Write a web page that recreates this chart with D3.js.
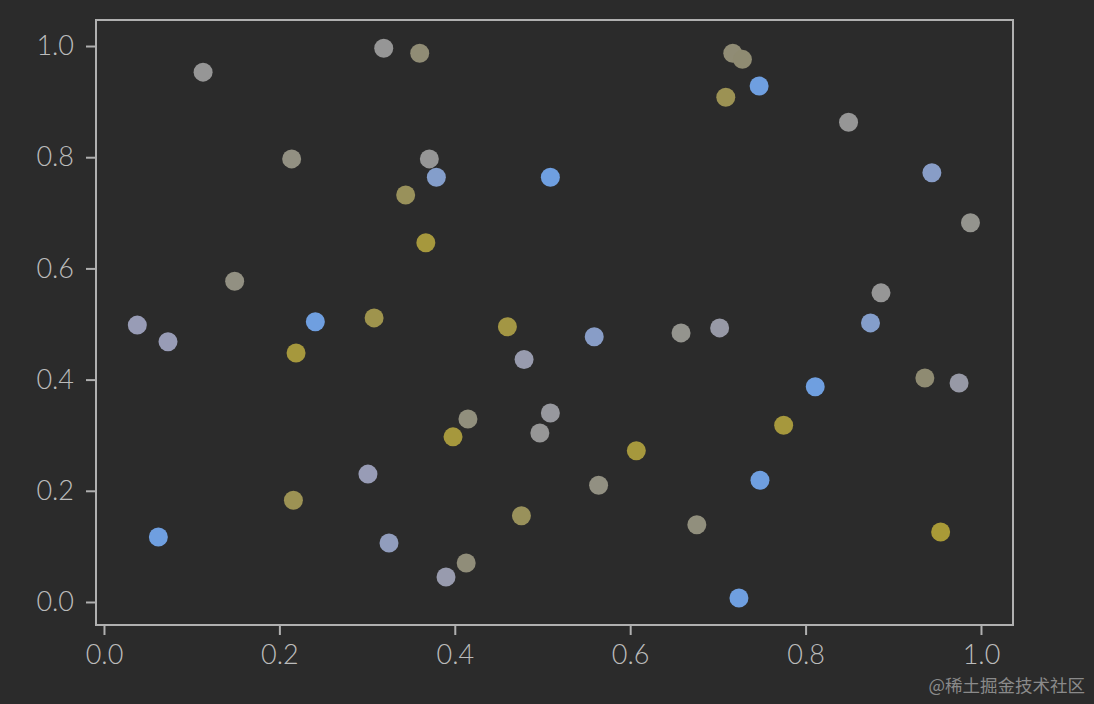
<!DOCTYPE html>
<html>
<head>
<meta charset="utf-8">
<script src="https://cdn.jsdelivr.net/npm/d3@7"></script>
<style>
html,body{margin:0;padding:0;background:#2b2b2b;}
svg{display:block;}
</style>
</head>
<body>
<svg id="chart" width="1094" height="704"></svg>
<script>
const xValues = [0.038,0.073,0.062,0.113,0.149,0.214,0.241,0.219,0.216,0.301,0.325,0.319,0.360,0.344,0.308,0.371,0.379,0.367,0.509,0.398,0.415,0.390,0.413,0.460,0.479,0.497,0.509,0.476,0.559,0.564,0.607,0.658,0.702,0.676,0.709,0.717,0.728,0.747,0.724,0.748,0.775,0.811,0.849,0.874,0.886,0.944,0.988,0.936,0.975,0.954];
const yValues = [0.498,0.468,0.117,0.953,0.577,0.797,0.504,0.448,0.183,0.230,0.106,0.996,0.987,0.732,0.511,0.797,0.764,0.646,0.764,0.297,0.329,0.045,0.070,0.495,0.436,0.304,0.340,0.155,0.477,0.210,0.272,0.484,0.493,0.139,0.908,0.987,0.976,0.928,0.007,0.219,0.318,0.387,0.863,0.502,0.556,0.772,0.682,0.403,0.394,0.126];
const colorValues = [0.3,0.3,0.0,0.5,0.62,0.62,0.0,0.95,0.85,0.3,0.25,0.5,0.7,0.82,0.88,0.5,0.15,0.95,0.0,0.95,0.65,0.35,0.68,0.92,0.35,0.5,0.45,0.82,0.18,0.62,0.95,0.55,0.4,0.65,0.85,0.7,0.72,0.0,0.0,0.0,0.95,0.0,0.5,0.15,0.5,0.18,0.55,0.72,0.4,0.98];
const xTicks = [0.0,0.2,0.4,0.6,0.8,1.0];
const yTicks = [0.0,0.2,0.4,0.6,0.8,1.0];

(function () {
const svg = d3.select("#chart");
const L = 96, R = 1013, T = 20, B = 625;
const x = d3.scaleLinear().domain([-0.0091, 1.0365]).range([L, R]);
const y = d3.scaleLinear().domain([-0.0414, 1.0468]).range([B, T]);
const color = d3.scaleLinear()
  .domain([0, 0.3, 0.5, 0.72, 1])
  .range(["#6f9fe0", "#989cb6", "#969696", "#8f8b72", "#ab9b32"]);

const fontFam = "Lato, 'DejaVu Sans', sans-serif";
const axisCol = "#b0b0b0";
const textCol = "#bcbcbc";

svg.append("g").selectAll("circle")
  .data(xValues.map((d, i) => ({x: d, y: yValues[i], c: colorValues[i]})))
  .join("circle")
  .attr("cx", d => x(d.x))
  .attr("cy", d => y(d.y))
  .attr("r", 9.5)
  .attr("fill", d => color(d.c));

svg.append("rect")
  .attr("x", L).attr("y", T)
  .attr("width", R - L).attr("height", B - T)
  .attr("fill", "none").attr("stroke", axisCol).attr("stroke-width", 2);

const xAxis = d3.axisBottom(x).tickValues(xTicks).tickFormat(d3.format(".1f")).tickSize(10).tickPadding(10);
const yAxis = d3.axisLeft(y).tickValues(yTicks).tickFormat(d3.format(".1f")).tickSize(10).tickPadding(12);

const gx = svg.append("g").attr("transform", `translate(0,${B})`).call(xAxis);
const gy = svg.append("g").attr("transform", `translate(${L},0)`).call(yAxis);
[gx, gy].forEach(g => {
  g.select(".domain").remove();
  g.selectAll(".tick line").attr("stroke", axisCol).attr("stroke-width", 2);
  g.selectAll(".tick text").attr("fill", textCol).attr("font-size", 27).attr("font-weight", 300).attr("font-family", fontFam);
});

svg.append("text")
  .attr("x", 1085).attr("y", 692)
  .attr("text-anchor", "end")
  .attr("font-size", 17.5)
  .attr("font-family", "'Noto Sans CJK SC', sans-serif")
  .attr("fill", "#8a8a8a")
  .text("@稀土掘金技术社区");
})();
</script>
</body>
</html>
